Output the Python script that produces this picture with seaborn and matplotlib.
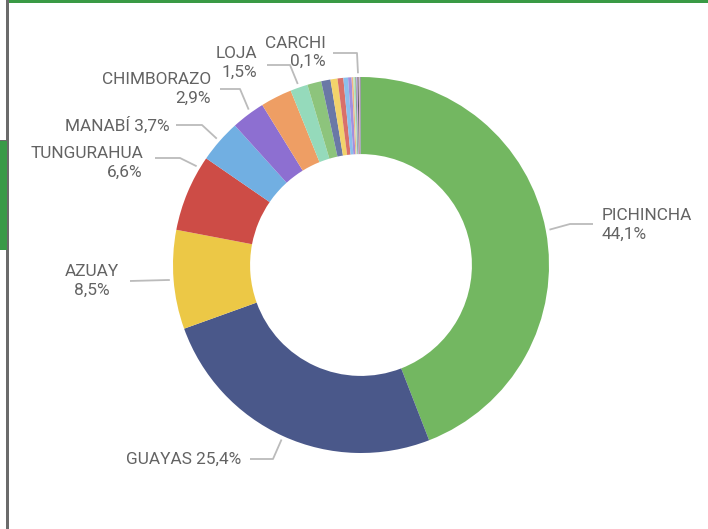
import numpy as np
import matplotlib
matplotlib.use("Agg")
import matplotlib.pyplot as plt
import seaborn as sns

# provinces in drawing order (clockwise from the top)
provinces = ["PICHINCHA", "GUAYAS", "AZUAY", "TUNGURAHUA", "MANABÍ", "CHIMBORAZO",
             "EL ORO", "LOJA", "IMBABURA", "SANTO DOMINGO", "LOS RÍOS", "COTOPAXI",
             "ESMERALDAS", "SANTA ELENA", "CAÑAR", "SUCUMBÍOS", "ORELLANA", "BOLÍVAR",
             "GALÁPAGOS", "CARCHI", "NAPO", "PASTAZA", "ZAMORA CHINCHIPE"]
shares = [44.1, 25.4, 8.5, 6.6, 3.7, 2.9,
          2.7, 1.5, 1.2, 0.8, 0.6, 0.5,
          0.4, 0.3, 0.15, 0.1, 0.1, 0.05,
          0.1, 0.1, 0.07, 0.07, 0.06]
colors = ["#73B761", "#4A588A", "#ECC846", "#CD4C46", "#71AFE2", "#8D6FD1",
          "#EE9E64", "#95DABB", "#8DC47C", "#6A78A6", "#F2D36B", "#D9706A",
          "#8CBFEC", "#A48FDD", "#F3B486", "#B0E6CC", "#A9D69D", "#3E4A75",
          "#C9A9E8", "#5A5A5A", "#E8A0A0", "#9DB7D8", "#7A7A7A"]
labelled = ["PICHINCHA", "GUAYAS", "AZUAY", "TUNGURAHUA", "MANABÍ",
            "CHIMBORAZO", "LOJA", "CARCHI"]

W, H = 708, 529
CX, CY, R = 361, 265, 188

sns.set_theme(style="white")
plt.rcParams["font.family"] = ["Roboto", "DejaVu Sans"]

fig = plt.figure(figsize=(W / 100, H / 100), dpi=100)
fig.patch.set_facecolor("white")

# frame decorations of the report page
fig.add_artist(plt.Rectangle((7 / W, 1 - 3 / H), 1, 3 / H, transform=fig.transFigure,
                             color="#3A9A45", lw=0))
fig.add_artist(plt.Rectangle((6 / W, 0), 2.5 / W, 1, transform=fig.transFigure,
                             color="#6B6B6B", lw=0))
fig.add_artist(plt.Rectangle((0, 1 - 250 / H), 6.5 / W, 110 / H, transform=fig.transFigure,
                             color="#3A9A48", lw=0))
fig.add_artist(plt.Rectangle((0, 1 - 141 / H), 8 / W, 1.5 / H, transform=fig.transFigure,
                             color="#6B6B6B", lw=0))

ax = fig.add_axes([(CX - R) / W, (H - CY - R) / H, 2 * R / W, 2 * R / H])
wedges, _ = ax.pie(shares, colors=colors, startangle=90, counterclock=False,
                   radius=1, wedgeprops=dict(width=0.41, linewidth=0))
ax.set_xlim(-1, 1)
ax.set_ylim(-1, 1)
ax.axis("off")


def px(x, y):
    return (x - CX) / R, (CY - y) / R


# label layout: (elbow px, line end px, text px, ha, single line, slice fraction)
layout = {
    "PICHINCHA": ((570, 224), (593, 224), (602, 225), "left", False, 0.5),
    "GUAYAS": ((273, 459), (250, 459), (241, 459), "right", True, 0.5),
    "AZUAY": ((168, 280), (130, 281), (119, 281), "right", False, 0.5),
    "TUNGURAHUA": ((180, 158), (155, 158), (143, 163), "right", False, 0.85),
    "MANABÍ": ((202, 125), (176, 125), (170, 125), "right", True, 0.5),
    "CHIMBORAZO": ((240, 89), (220, 89), (211, 89), "right", False, 0.6),
    "LOJA": ((290, 65), (267, 65), (257, 63), "right", False, 0.5),
    "CARCHI": ((357, 53), (333, 53), (326, 52), "right", False, 0.5),
}

total = sum(shares)
start = 0.0
for name, val in zip(provinces, shares):
    if name in layout:
        elbow, end, tpos, ha, single, frac = layout[name]
        a = np.deg2rad(90 - 360 * (start + frac * val) / total)
        anchor = (1.02 * np.cos(a), 1.02 * np.sin(a))
        pts = [anchor, px(*elbow), px(*end)]
        ax.plot([p[0] for p in pts], [p[1] for p in pts], color="#BBBBBB",
                lw=1.3, clip_on=False, solid_capstyle="butt")
        pct = f"{val:.1f}".replace(".", ",") + "%"
        txt = f"{name} {pct}" if single else f"{name}\n{pct}"
        tx, ty = px(*tpos)
        ax.text(tx, ty, txt, ha=ha, va="center", fontsize=12.4, color="#636363",
                multialignment="center" if name == "AZUAY" else ha,
                linespacing=1.25, clip_on=False)
    start += val

fig.savefig("out.png", dpi=100, facecolor="white")
